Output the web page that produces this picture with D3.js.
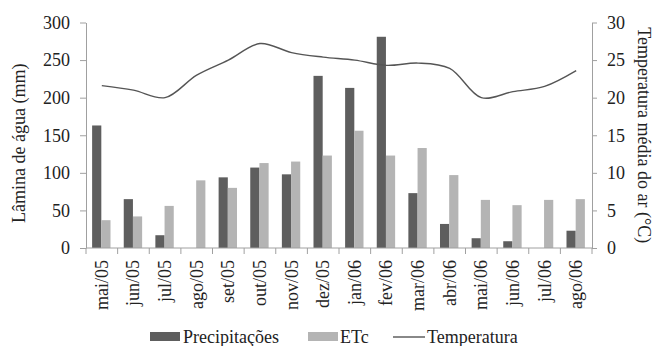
<!DOCTYPE html>
<html><head><meta charset="utf-8">
<script src="https://cdn.jsdelivr.net/npm/d3@7"></script>
<style>body{margin:0;background:#fff}svg{display:block}text{font-family:"Liberation Serif","Times New Roman",serif;fill:#222}</style>
</head><body>
<svg id="c" width="653" height="346"></svg>
<script>
const months = ["mai/05","jun/05","jul/05","ago/05","set/05","out/05","nov/05","dez/05","jan/06","fev/06","mar/06","abr/06","mai/06","jun/06","jul/06","ago/06"];
const precipitacoes = [163,65,17,0,94,107,98,229,213,281,73,32,13,9,0,23];
const etc = [37,42,56,90,80,113,115,123,156,123,133,97,64,57,64,65];
const temperatura = [21.6,21.0,20.0,23.0,25.0,27.2,26.0,25.4,25.0,24.3,24.6,23.9,20.0,20.8,21.5,23.6];
const leftTicks = [0,50,100,150,200,250,300];
const rightTicks = [0,5,10,15,20,25,30];

const svg = d3.select("#c");
const L = 86, R = 592, T = 22.5, B = 248;
const x = d3.scaleBand().domain(months).range([L, R]);
const xs = d3.scaleBand().domain(["p","e"]).range([0, x.bandwidth()]).paddingInner(0).paddingOuter(0.72);
const y = d3.scaleLinear().domain([0,300]).range([B, T]);
const y2 = d3.scaleLinear().domain([0,30]).range([B, T]);
const axisCol = "#a0a0a0";

// bars
const g = svg.append("g");
months.forEach((m,i)=>{
  g.append("rect").attr("x", x(m)+xs("p")-0.5).attr("width", xs.bandwidth())
    .attr("y", y(precipitacoes[i])).attr("height", B - y(precipitacoes[i])).attr("fill","#5e5e5e");
  g.append("rect").attr("x", x(m)+xs("e")-0.5).attr("width", xs.bandwidth())
    .attr("y", y(etc[i])).attr("height", B - y(etc[i])).attr("fill","#b4b4b4");
});

// axes
const styleAxis = sel => { sel.select(".domain").attr("stroke", axisCol); sel.selectAll(".tick line").attr("stroke", axisCol); sel.selectAll("text").style("font-size","18px").attr("fill","#222"); };
const la = svg.append("g").attr("transform",`translate(${L},0)`).call(d3.axisLeft(y).tickValues(leftTicks).tickSize(6).tickSizeOuter(0).tickPadding(10));
styleAxis(la);
const ra = svg.append("g").attr("transform",`translate(${R},0)`).call(d3.axisRight(y2).tickValues(rightTicks).tickSize(5).tickSizeOuter(0).tickPadding(10));
styleAxis(ra);

// x axis
const xa = svg.append("g").attr("transform",`translate(0,${B})`);
xa.append("line").attr("x1",L).attr("x2",R).attr("stroke",axisCol);
d3.range(months.length+1).forEach(i=>{
  const xx = L + i*x.step();
  xa.append("line").attr("x1",xx).attr("x2",xx).attr("y1",0).attr("y2",6).attr("stroke",axisCol);
});
months.forEach(m=>{
  xa.append("text").attr("transform",`translate(${x(m)+x.bandwidth()/2+6},12) rotate(-90)`)
    .attr("text-anchor","end").style("font-size","18px").text(m);
});

// line
const line = d3.line().x((d,i)=>x(months[i])+x.bandwidth()/2).y(d=>y2(d)).curve(d3.curveCatmullRom.alpha(0.5));
svg.append("path").datum(temperatura).attr("d",line).attr("fill","none").attr("stroke","#555").attr("stroke-width",1.4);

// titles
svg.append("text").attr("transform",`translate(25,${(T+B)/2+8}) rotate(-90)`).attr("text-anchor","middle").style("font-size","18px").text("Lâmina de água (mm)");
svg.append("text").attr("transform",`translate(638,${(T+B)/2}) rotate(90)`).attr("text-anchor","middle").style("font-size","18px").text("Temperatura média do ar (°C)");

// legend
const ly = 337;
const lg = svg.append("g");
lg.append("rect").attr("x",150).attr("y",ly-5).attr("width",30).attr("height",9).attr("fill","#5e5e5e");
lg.append("text").attr("x",183).attr("y",ly+6).style("font-size","18px").text("Precipitações");
lg.append("rect").attr("x",308).attr("y",ly-5).attr("width",30).attr("height",9).attr("fill","#b4b4b4");
lg.append("text").attr("x",340).attr("y",ly+6).style("font-size","18px").text("ETc");
lg.append("line").attr("x1",393).attr("x2",425).attr("y1",ly).attr("y2",ly).attr("stroke","#555").attr("stroke-width",1.4);
lg.append("text").attr("x",427).attr("y",ly+6).style("font-size","18px").text("Temperatura");
</script>
</body></html>
